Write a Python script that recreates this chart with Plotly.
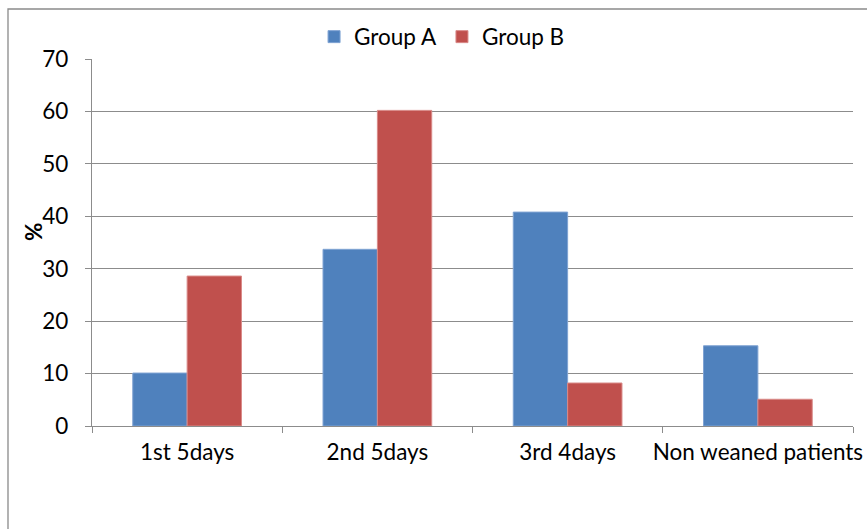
import plotly.graph_objects as go

# Weaning time distribution by group (%)
categories = ["1st 5days", "2nd 5days", "3rd 4days", "Non weaned patients"]
group_a = [10.1, 33.7, 40.8, 15.3]
group_b = [28.6, 60.2, 8.2, 5.1]
y_ticks = [0, 10, 20, 30, 40, 50, 60, 70]

W, H = 867, 529
ML, MR, MT, MB = 92, 14, 59, 103
FONT = "Lato, Open Sans, sans-serif"
FS = 22.5
GRID = "#8c8c8c"

fig = go.Figure()
fig.add_trace(go.Bar(name="Group A", x=categories, y=group_a,
                     marker=dict(color="#4F81BD", line=dict(color="#7fa3d3", width=1))))
fig.add_trace(go.Bar(name="Group B", x=categories, y=group_b,
                     marker=dict(color="#C0504D", line=dict(color="#d98a88", width=1))))

pw, ph = W - ML - MR, H - MT - MB
# chart-area frame
fig.add_shape(type="rect", xref="paper", yref="paper",
              x0=(8 - ML) / pw, x1=(W + 5 - ML) / pw,
              y0=-(H + 5 - MT - ph) / ph, y1=1 + (MT - 9) / ph,
              line=dict(color="#8a8a8a", width=1.3), fillcolor="rgba(0,0,0,0)", layer="below")

# y-axis title
fig.add_annotation(text="<b>%</b>", xref="paper", yref="paper",
                   x=(33 - ML) / pw, y=(H - MB - 232) / ph, xanchor="center", yanchor="middle",
                   textangle=-90, showarrow=False, font=dict(size=FS))

fig.update_layout(
    width=W, height=H,
    margin=dict(l=ML, r=MR, t=MT, b=MB, autoexpand=False),
    paper_bgcolor="white", plot_bgcolor="white",
    barmode="group", bargap=0.4286, bargroupgap=0,
    font=dict(family=FONT, size=FS, color="#000000"),
    legend=dict(orientation="h", x=0.46, xanchor="center", y=1 + 22 / ph, yanchor="middle",
                font=dict(size=FS), itemwidth=30, tracegroupgap=0,
                bgcolor="rgba(0,0,0,0)"),
    showlegend=True,
)
fig.update_xaxes(
    type="category", tickson="boundaries", ticks="outside", ticklen=6,
    tickcolor=GRID, showline=True, linecolor=GRID, linewidth=1.3,
    showgrid=False, ticklabelstandoff=6, tickfont=dict(size=FS),
    tickangle=0, automargin=False,
)
fig.update_yaxes(
    range=[0, 70], tickvals=y_ticks, ticks="outside", ticklen=6, tickcolor=GRID,
    showline=True, linecolor=GRID, linewidth=1.3,
    showgrid=True, gridcolor=GRID, gridwidth=1.3, zeroline=False,
    ticklabelstandoff=12, tickfont=dict(size=FS), automargin=False,
)

fig.write_html("out.html")
